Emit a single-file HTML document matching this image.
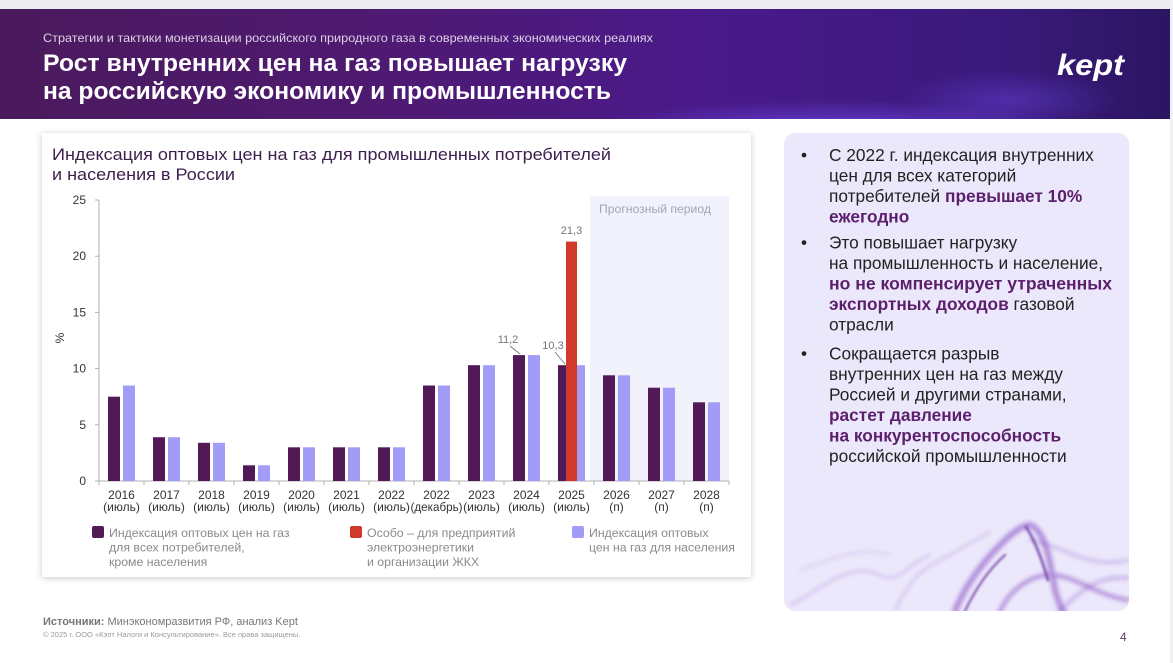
<!DOCTYPE html>
<html><head><meta charset="utf-8">
<style>
html,body{margin:0;padding:0;background:#fff;}
body{width:1173px;height:663px;position:relative;overflow:hidden;font-family:"Liberation Sans",sans-serif;}
.card{position:absolute;left:42px;top:133px;width:709px;height:444px;background:#fff;box-shadow:0 1px 6px rgba(0,0,0,0.22);}
svg{position:absolute;left:0;top:0;}
</style></head><body>
<div class="card"></div>
<svg width="1173" height="663" viewBox="0 0 1173 663" xmlns="http://www.w3.org/2000/svg" font-family="Liberation Sans, sans-serif">
<defs>
<linearGradient id="hg" x1="0" y1="0" x2="1" y2="0">
<stop offset="0" stop-color="#4b1a5c"/>
<stop offset="0.35" stop-color="#4e1a74"/>
<stop offset="0.6" stop-color="#4a1a8a"/>
<stop offset="0.85" stop-color="#3a1a7c"/>
<stop offset="1" stop-color="#2c1562"/>
</linearGradient>
<radialGradient id="glow" cx="0.5" cy="0.5" r="0.5">
<stop offset="0" stop-color="#6d46e6" stop-opacity="0.8"/>
<stop offset="1" stop-color="#6d46e6" stop-opacity="0"/>
</radialGradient>
<filter id="blur"><feGaussianBlur stdDeviation="2.2"/></filter>
<filter id="blur1"><feGaussianBlur stdDeviation="1"/></filter>
<clipPath id="hclip"><rect x="0" y="9" width="1170" height="110"/></clipPath>
<clipPath id="pclip"><rect x="784" y="133" width="345" height="478" rx="11"/></clipPath>
</defs>
<rect x="0" y="0" width="1173" height="9" fill="#ecebf0"/>
<rect x="1170" y="0" width="3" height="663" fill="#f1f1f4"/>
<rect x="0" y="9" width="1170" height="110" fill="url(#hg)"/>
<g clip-path="url(#hclip)">
<ellipse cx="840" cy="128" rx="240" ry="28" fill="url(#glow)"/>
<ellipse cx="1010" cy="100" rx="110" ry="30" fill="url(#glow)" opacity="0.55"/>
</g>
<text x="43" y="42" font-size="12" fill="#ddd2e6" textLength="610" lengthAdjust="spacingAndGlyphs">Стратегии и тактики монетизации российского природного газа в современных экономических реалиях</text>
<text x="43" y="71" font-size="24.5" font-weight="bold" fill="#fff" textLength="584" lengthAdjust="spacingAndGlyphs">Рост внутренних цен на газ повышает нагрузку</text>
<text x="43" y="99" font-size="24.5" font-weight="bold" fill="#fff" textLength="568" lengthAdjust="spacingAndGlyphs">на российскую экономику и промышленность</text>
<text x="1057" y="75" font-size="30" font-weight="bold" font-style="italic" fill="#fff" textLength="67" lengthAdjust="spacingAndGlyphs">kept</text>

<text x="52" y="160" font-size="17" fill="#3d1f4d" textLength="559" lengthAdjust="spacingAndGlyphs">Индексация оптовых цен на газ для промышленных потребителей</text>
<text x="52" y="180" font-size="17" fill="#3d1f4d" textLength="183" lengthAdjust="spacingAndGlyphs">и населения в России</text>

<rect x="590" y="196" width="139" height="285" fill="#f2f2fc"/>
<text x="599" y="213" font-size="11.5" fill="#a4a4b4" textLength="112" lengthAdjust="spacingAndGlyphs">Прогнозный период</text>

<line x1="99" y1="200" x2="99" y2="481" stroke="#b0b0b0" stroke-width="1"/>
<line x1="99" y1="481" x2="729" y2="481" stroke="#b0b0b0" stroke-width="1"/>
<g stroke="#b0b0b0" stroke-width="1">
<line x1="95" y1="200" x2="99" y2="200"/><line x1="95" y1="256.2" x2="99" y2="256.2"/><line x1="95" y1="312.4" x2="99" y2="312.4"/><line x1="95" y1="368.6" x2="99" y2="368.6"/><line x1="95" y1="424.8" x2="99" y2="424.8"/><line x1="95" y1="481" x2="99" y2="481"/>
<line x1="99" y1="481" x2="99" y2="485"/><line x1="144" y1="481" x2="144" y2="485"/><line x1="189" y1="481" x2="189" y2="485"/><line x1="234" y1="481" x2="234" y2="485"/><line x1="279" y1="481" x2="279" y2="485"/><line x1="324" y1="481" x2="324" y2="485"/><line x1="369" y1="481" x2="369" y2="485"/><line x1="414" y1="481" x2="414" y2="485"/><line x1="459" y1="481" x2="459" y2="485"/><line x1="504" y1="481" x2="504" y2="485"/><line x1="549" y1="481" x2="549" y2="485"/><line x1="594" y1="481" x2="594" y2="485"/><line x1="639" y1="481" x2="639" y2="485"/><line x1="684" y1="481" x2="684" y2="485"/><line x1="729" y1="481" x2="729" y2="485"/>
</g>
<g font-size="12" fill="#333" text-anchor="end">
<text x="86" y="204">25</text><text x="86" y="260">20</text><text x="86" y="316.5">15</text><text x="86" y="372.5">10</text><text x="86" y="429">5</text><text x="86" y="485">0</text>
</g>
<text transform="translate(64,338) rotate(-90)" font-size="12" fill="#333" text-anchor="middle">%</text>

<g fill="#511a57">
<rect x="108" y="396.7" width="12" height="84.3"/>
<rect x="153" y="437.2" width="12" height="43.8"/>
<rect x="198" y="442.8" width="12" height="38.2"/>
<rect x="243" y="465.3" width="12" height="15.7"/>
<rect x="288" y="447.3" width="12" height="33.7"/>
<rect x="333" y="447.3" width="12" height="33.7"/>
<rect x="378" y="447.3" width="12" height="33.7"/>
<rect x="423" y="385.5" width="12" height="95.5"/>
<rect x="468" y="365.2" width="12" height="115.8"/>
<rect x="513" y="355.1" width="12" height="125.9"/>
<rect x="558" y="365.2" width="12" height="115.8"/>
<rect x="603" y="375.3" width="12" height="105.7"/>
<rect x="648" y="387.7" width="12" height="93.3"/>
<rect x="693" y="402.3" width="12" height="78.7"/>
</g>
<g fill="#a39cf6">
<rect x="123" y="385.5" width="12" height="95.5"/>
<rect x="168" y="437.2" width="12" height="43.8"/>
<rect x="213" y="442.8" width="12" height="38.2"/>
<rect x="258" y="465.3" width="12" height="15.7"/>
<rect x="303" y="447.3" width="12" height="33.7"/>
<rect x="348" y="447.3" width="12" height="33.7"/>
<rect x="393" y="447.3" width="12" height="33.7"/>
<rect x="438" y="385.5" width="12" height="95.5"/>
<rect x="483" y="365.2" width="12" height="115.8"/>
<rect x="528" y="355.1" width="12" height="125.9"/>
<rect x="573" y="365.2" width="12" height="115.8"/>
<rect x="618" y="375.3" width="12" height="105.7"/>
<rect x="663" y="387.7" width="12" height="93.3"/>
<rect x="708" y="402.3" width="12" height="78.7"/>
</g>
<rect x="566" y="241.6" width="11" height="239.4" fill="#d13a2b"/>

<g font-size="11" fill="#777" text-anchor="middle">
<text x="571.5" y="234">21,3</text>
<text x="508" y="343">11,2</text>
<text x="553" y="349">10,3</text>
</g>
<line x1="510" y1="346" x2="520" y2="354" stroke="#777" stroke-width="0.9"/>
<line x1="555" y1="352" x2="565" y2="364" stroke="#777" stroke-width="0.9"/>

<g font-size="12" fill="#333" text-anchor="middle">
<text x="121.5" y="499">2016</text><text x="121.5" y="511">(июль)</text>
<text x="166.5" y="499">2017</text><text x="166.5" y="511">(июль)</text>
<text x="211.5" y="499">2018</text><text x="211.5" y="511">(июль)</text>
<text x="256.5" y="499">2019</text><text x="256.5" y="511">(июль)</text>
<text x="301.5" y="499">2020</text><text x="301.5" y="511">(июль)</text>
<text x="346.5" y="499">2021</text><text x="346.5" y="511">(июль)</text>
<text x="391.5" y="499">2022</text><text x="391.5" y="511">(июль)</text>
<text x="436.5" y="499">2022</text><text x="436.5" y="511" textLength="52" lengthAdjust="spacingAndGlyphs">(декабрь)</text>
<text x="481.5" y="499">2023</text><text x="481.5" y="511">(июль)</text>
<text x="526.5" y="499">2024</text><text x="526.5" y="511">(июль)</text>
<text x="571.5" y="499">2025</text><text x="571.5" y="511">(июль)</text>
<text x="616.5" y="499">2026</text><text x="616.5" y="511">(п)</text>
<text x="661.5" y="499">2027</text><text x="661.5" y="511">(п)</text>
<text x="706.5" y="499">2028</text><text x="706.5" y="511">(п)</text>
</g>

<rect x="92" y="526" width="12" height="12" rx="2" fill="#511a57"/>
<rect x="350" y="526" width="12" height="12" rx="2" fill="#d13a2b"/>
<rect x="572" y="526" width="12" height="12" rx="2" fill="#a39cf6"/>
<g font-size="12.3" fill="#8a8a8a">
<text x="109" y="537">Индексация оптовых цен на газ</text>
<text x="109" y="551.5">для всех потребителей,</text>
<text x="109" y="566">кроме населения</text>
<text x="367" y="537">Особо – для предприятий</text>
<text x="367" y="551.5">электроэнергетики</text>
<text x="367" y="566">и организации ЖКХ</text>
<text x="589" y="537">Индексация оптовых</text>
<text x="589" y="551.5">цен на газ для населения</text>
</g>

<rect x="784" y="133" width="345" height="478" rx="11" fill="#ece8fb"/>
<g clip-path="url(#pclip)" fill="none" stroke-linecap="round">
<g filter="url(#blur)" opacity="0.45" stroke="#a27ad6">
<path d="M790 605 C820 590 850 560 880 575 C900 585 905 565 930 555" stroke-width="2"/>
<path d="M895 611 C905 590 915 572 940 560 C960 550 975 540 990 532" stroke-width="2"/>
<path d="M1030 540 C1060 545 1090 570 1128 560" stroke-width="3"/>
<path d="M1060 611 C1080 590 1100 575 1128 578" stroke-width="4"/>
<path d="M800 570 C830 560 860 545 890 555" stroke-width="1.2"/>
</g>
<g filter="url(#blur)" opacity="0.6" stroke="#8a52c6">
<path d="M955 611 C965 585 985 560 1000 545 C1012 533 1022 525 1030 525 C1045 530 1050 560 1055 590 C1058 600 1062 611 1065 615" stroke-width="6"/>
<path d="M1000 611 C1010 590 1030 575 1050 575 C1075 575 1095 595 1128 600" stroke-width="4"/>
</g>
<g filter="url(#blur1)" opacity="0.75" stroke="#6e3aa8">
<path d="M1026 527 C1035 540 1042 560 1048 580" stroke-width="3"/>
<path d="M965 611 C975 590 988 570 1005 555" stroke-width="2.5"/>
</g>
</g>
<g font-size="17.3" fill="#222">
<text x="801" y="161">•</text>
<text x="829" y="161">С 2022 г. индексация внутренних</text>
<text x="829" y="181.5">цен для всех категорий</text>
<text x="829" y="202">потребителей <tspan font-weight="bold" fill="#5b1f6c">превышает 10%</tspan></text>
<text x="829" y="222.5" font-weight="bold" fill="#5b1f6c">ежегодно</text>
<text x="801" y="248.5">•</text>
<text x="829" y="248.5">Это повышает нагрузку</text>
<text x="829" y="269">на промышленность и население,</text>
<text x="829" y="289.5" font-weight="bold" fill="#5b1f6c" textLength="283" lengthAdjust="spacingAndGlyphs">но не компенсирует утраченных</text>
<text x="829" y="310"><tspan font-weight="bold" fill="#5b1f6c">экспортных доходов</tspan> газовой</text>
<text x="829" y="330.5">отрасли</text>
<text x="801" y="359.5">•</text>
<text x="829" y="359.5">Сокращается разрыв</text>
<text x="829" y="380">внутренних цен на газ между</text>
<text x="829" y="400.5">Россией и другими странами,</text>
<text x="829" y="421" font-weight="bold" fill="#5b1f6c">растет давление</text>
<text x="829" y="441.5" font-weight="bold" fill="#5b1f6c">на конкурентоспособность</text>
<text x="829" y="462">российской промышленности</text>
</g>

<text x="43" y="625" font-size="11" fill="#777"><tspan font-weight="bold">Источники:</tspan> Минэкономразвития РФ, анализ Kept</text>
<text x="43" y="637" font-size="7.5" fill="#9a9a9a">© 2025 г. ООО «Кэпт Налоги и Консультирование». Все права защищены.</text>
<text x="1120" y="641" font-size="12" fill="#5a3a6a">4</text>
</svg>
</body></html>
